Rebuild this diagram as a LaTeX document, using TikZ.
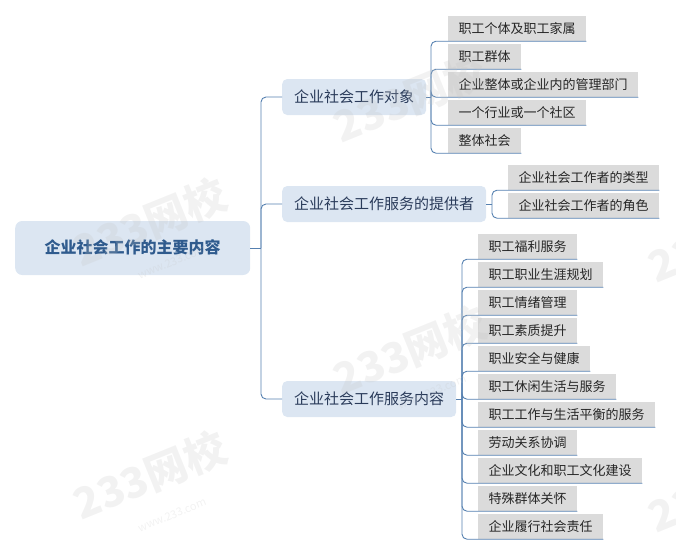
\documentclass[tikz,border=0pt]{standalone}
\usepackage{fontspec}
\setmainfont{Noto Sans CJK SC}
\definecolor{rootfill}{HTML}{DCE6F2}
\definecolor{roottext}{HTML}{2F5B8E}
\definecolor{subtext}{HTML}{2A3B5A}
\definecolor{leaffill}{HTML}{DBDBDB}
\definecolor{linkcolor}{HTML}{5580B0}
\definecolor{markcolor}{HTML}{C4C4C4}

\begin{document}
\begin{tikzpicture}[x=1pt,y=-1pt,
    rootnode/.style ={rectangle, rounded corners=7pt, fill=rootfill, text=roottext, font=\fontsize{16pt}{18pt}\selectfont\bfseries, minimum height=54pt, inner xsep=0pt, text width=235pt, align=center, anchor=west, text height=1.02em, text depth=0pt},
    subnode/.style ={rectangle, rounded corners=5pt, fill=rootfill, text=subtext, font=\fontsize{15pt}{17pt}\selectfont, minimum height=36pt, inner xsep=12pt, anchor=west, text height=1em, text depth=0pt},
    leafnode/.style ={rectangle, fill=leaffill, text=black!85, font=\fontsize{13pt}{15pt}\selectfont, minimum height=25pt, inner xsep=10.5pt, inner ysep=0pt, anchor=west, text height=1em, text depth=0pt},
    link/.style ={draw=linkcolor, line width=0.9pt, rounded corners=5pt},
    markbig/.style ={text=markcolor, opacity=0.22, font=\fontsize{42pt}{44pt}\selectfont\bfseries, rotate=22},
    marksmall/.style ={text=markcolor, opacity=0.22, font=\fontsize{11pt}{13pt}\selectfont, rotate=22}]
   \useasboundingbox (0,0) rectangle (676,555);
   \clip (0,0) rectangle (676,555);

   \node[rootnode] (R) at (15,248) {企业社会工作的主要内容};
   \node[subnode] (A) at (282,97) {企业社会工作对象};
   \node[subnode] (B) at (282,204) {企业社会工作服务的提供者};
   \node[subnode] (C) at (282,399) {企业社会工作服务内容};

   \node[leafnode] (A1) at (448,28.5) {职工个体及职工家属};
   \node[leafnode] (A2) at (448,56.5) {职工群体};
   \node[leafnode] (A3) at (448,84.5) {企业整体或企业内的管理部门};
   \node[leafnode] (A4) at (448,112.5) {一个行业或一个社区};
   \node[leafnode] (A5) at (448,140.5) {整体社会};

   \node[leafnode] (B1) at (508,177.5) {企业社会工作者的类型};
   \node[leafnode] (B2) at (508,205.5) {企业社会工作者的角色};

   \node[leafnode] (C1) at (478,246.5) {职工福利服务};
   \node[leafnode] (C2) at (478,274.5) {职工职业生涯规划};
   \node[leafnode] (C3) at (478,302.5) {职工情绪管理};
   \node[leafnode] (C4) at (478,330.5) {职工素质提升};
   \node[leafnode] (C5) at (478,358.5) {职业安全与健康};
   \node[leafnode] (C6) at (478,386.5) {职工休闲生活与服务};
   \node[leafnode] (C7) at (478,414.5) {职工工作与生活平衡的服务};
   \node[leafnode] (C8) at (478,442.5) {劳动关系协调};
   \node[leafnode] (C9) at (478,470.5) {企业文化和职工文化建设};
   \node[leafnode] (C10) at (478,498.5) {特殊群体关怀};
   \node[leafnode] (C11) at (478,526.5) {企业履行社会责任};

   \coordinate (HR) at (261,248);
   \coordinate (HA) at (431,97);
   \coordinate (HB) at (492,204);
   \coordinate (HC) at (462,399);

   \draw[link] (R.east) -- (HR);
   \draw[link] (HR) |- (A.west);
   \draw[link] (HR) |- (B.west);
   \draw[link] (HR) |- (C.west);

   \draw[link] (A.east) -- (HA);
   \draw[link] (HA) |- (A1.south east);
   \draw[link] (HA) |- (A2.south east);
   \draw[link] (HA) |- (A3.south east);
   \draw[link] (HA) |- (A4.south east);
   \draw[link] (HA) |- (A5.south east);

   \draw[link] (B.east) -- (HB);
   \draw[link] (HB) |- (B1.south east);
   \draw[link] (HB) |- (B2.south east);

   \draw[link] (C.east) -- (HC);
   \draw[link] (HC) |- (C1.south east);
   \draw[link] (HC) |- (C2.south east);
   \draw[link] (HC) |- (C3.south east);
   \draw[link] (HC) |- (C4.south east);
   \draw[link] (HC) |- (C5.south east);
   \draw[link] (HC) |- (C6.south east);
   \draw[link] (HC) |- (C7.south east);
   \draw[link] (HC) |- (C8.south east);
   \draw[link] (HC) |- (C9.south east);
   \draw[link] (HC) |- (C10.south east);
   \draw[link] (HC) |- (C11.south east);

   \node[markbig] (W1) at (150,222) {233网校};
   \node[marksmall] (W1s) at (172,262) {www.233.com};
   \node[markbig] (W2) at (410,98) {233网校};
   \node[markbig] (W3) at (410,350) {233网校};
   \node[marksmall] (W3s) at (432,392) {www.233.com};
   \node[markbig] (W4) at (150,475) {233网校};
   \node[marksmall] (W4s) at (172,515) {www.233.com};
   \node[markbig] (W5) at (725,238) {233网校};
   \node[markbig] (W6) at (725,488) {233网校};
 \end{tikzpicture}
\end{document}
